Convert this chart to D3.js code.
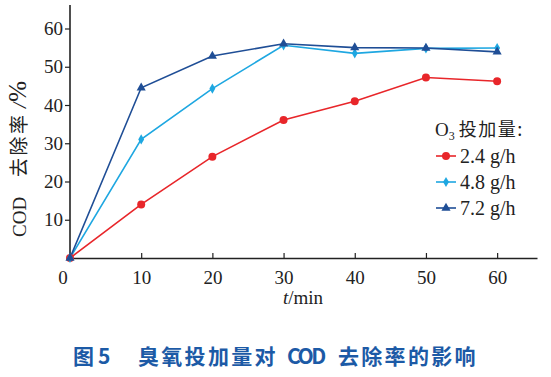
<!DOCTYPE html>
<html><head><meta charset="utf-8">
<script src="https://cdn.jsdelivr.net/npm/d3@7"></script>
<style>body{margin:0;background:#fff}svg{display:block}</style>
</head><body>
<svg id="c" width="551" height="377"></svg>
<script>
const times = [0, 10, 20, 30, 40, 50, 60];
const s24 = [0, 14.0, 26.5, 36.1, 41.0, 47.2, 46.2];
const s48 = [0, 31.0, 44.3, 55.6, 53.5, 54.8, 54.9];
const s72 = [0, 44.5, 52.8, 56.0, 55.0, 54.9, 53.9];
const seriesNames = ["2.4 g/h", "4.8 g/h", "7.2 g/h"];
const xTicks = [0, 10, 20, 30, 40, 50, 60];
const yTicks = [10, 20, 30, 40, 50, 60];

const colors = ["#e8262a", "#1ea7e1", "#1f4e96"];
const symbols = [d3.symbolCircle, d3.symbolDiamond, d3.symbolTriangle];
const sizes = [50, 30, 36];

const svg = d3.select("#c");
const x = d3.scaleLinear().domain([0, 65.6]).range([70, 537]);
const y = d3.scaleLinear().domain([0, 60]).range([258, 28.5]);
const serif = "Liberation Serif, DejaVu Serif, serif";
const cjk = "Noto Sans CJK SC";

// axes
const xa = svg.append("g").attr("transform", "translate(0,258)")
  .call(d3.axisBottom(x).tickValues(xTicks.filter(d=>d>0)).tickSize(-5).tickSizeOuter(0).tickFormat(d3.format("d")));
xa.attr("font-family", serif).attr("font-size", 19);
xa.select(".domain").attr("stroke", "#222").attr("stroke-width", 1.6);
xa.selectAll(".tick line").attr("stroke", "#222").attr("stroke-width", 1.2);
xa.selectAll(".tick text").attr("y", 13).attr("fill", "#222");
svg.append("text").attr("x", 63).attr("y", 284).attr("text-anchor", "middle")
  .attr("font-family", serif).attr("font-size", 19).attr("fill", "#222").text(xTicks[0]);

const ya = svg.append("g").attr("transform", "translate(70,0)")
  .call(d3.axisLeft(y).tickValues(yTicks).tickSize(5).tickSizeOuter(0).tickFormat(d3.format("d")));
ya.attr("font-family", serif).attr("font-size", 19);
ya.select(".domain").attr("d", `M0,${y(0)}V5`).attr("stroke", "#222").attr("stroke-width", 1.6);
ya.selectAll(".tick line").attr("stroke", "#222").attr("stroke-width", 1.2);
ya.selectAll(".tick text").attr("x", -7).attr("fill", "#222");

// axis titles
const xt = svg.append("text").attr("x", 303).attr("y", 304).attr("text-anchor", "middle")
  .attr("font-family", serif).attr("font-size", 19).attr("fill", "#222");
xt.append("tspan").attr("font-style", "italic").text("t");
xt.append("tspan").text("/min");

const yt = svg.append("text").attr("transform", "translate(26,0) rotate(-90)")
  .attr("font-size", 19).attr("fill", "#222");
yt.append("tspan").attr("x", -237).attr("font-family", serif).text("COD");
yt.append("tspan").attr("x", -177).attr("font-family", cjk).attr("letter-spacing", 2.5).text("去除率");
yt.append("tspan").attr("x", -108).attr("font-family", serif).attr("font-style", "italic").text("/");
yt.append("tspan").attr("font-family", serif).attr("font-size", 25).attr("dx", 1).text("%");

// series
const all = [s24, s48, s72];
const line = d3.line().x((d,i)=>x(times[i])).y(d=>y(d));
all.forEach((s, k) => {
  svg.append("path").datum(s).attr("d", line).attr("fill", "none")
    .attr("stroke", colors[k]).attr("stroke-width", 1.6);
});
all.forEach((s, k) => {
  svg.selectAll(null).data(s).enter().append("path")
    .attr("transform", (d,i)=>`translate(${x(times[i])},${y(d)})`)
    .attr("d", d3.symbol().type(symbols[k]).size(sizes[k]))
    .attr("fill", colors[k]);
});

// legend
const lg = svg.append("g");
const lt = lg.append("text").attr("x", 435).attr("y", 136).attr("font-size", 19).attr("fill", "#222");
lt.append("tspan").attr("font-family", serif).text("O");
lt.append("tspan").attr("font-family", serif).attr("font-size", 12).attr("dy", 4).text("3");
lt.append("tspan").attr("dy", -4).attr("dx", 4).attr("font-family", cjk).attr("font-size", 18).attr("letter-spacing", 1.5).text("投加量:");
seriesNames.forEach((n, k) => {
  const yy = 156 + k * 26;
  lg.append("line").attr("x1", 436).attr("x2", 456).attr("y1", yy).attr("y2", yy)
    .attr("stroke", colors[k]).attr("stroke-width", 1.6);
  lg.append("path").attr("transform", `translate(446,${yy})`)
    .attr("d", d3.symbol().type(symbols[k]).size(sizes[k])).attr("fill", colors[k]);
  lg.append("text").attr("x", 460).attr("y", yy + 6.5).attr("font-family", serif)
    .attr("font-size", 20).attr("fill", "#222").text(n);
});

// caption
const cap = svg.append("text").attr("y", 364).attr("font-family", cjk).attr("font-weight", "bold")
  .attr("font-size", 21).attr("fill", "#1c5aa6");
cap.append("tspan").attr("x", 73).attr("letter-spacing", 4).text("图5");
cap.append("tspan").attr("x", 138).attr("letter-spacing", 2.3).text("臭氧投加量对");
cap.append("tspan").attr("x", 287).attr("letter-spacing", -2.5).text("COD");
cap.append("tspan").attr("x", 338).attr("letter-spacing", 2.3).text("去除率的影响");
</script>
</body></html>
